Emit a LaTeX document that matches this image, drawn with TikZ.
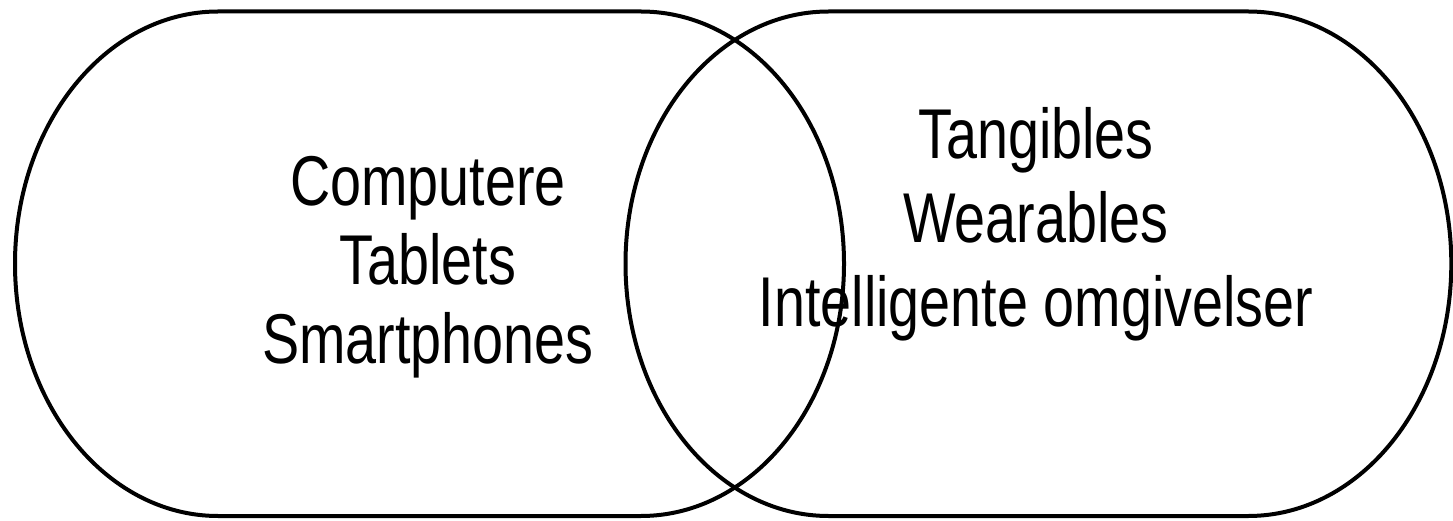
\documentclass[tikz,border=0pt]{standalone}
\usepackage{fontspec}
\setmainfont{Liberation Sans}
\tikzset{
  blob/.style={draw=black, line width=4pt},
  label/.style={anchor=base, inner sep=0pt, font=\fontsize{70.5pt}{84pt}\selectfont},
}
% narrow lettering used for every label
\newcommand{\narrow}[1]{\scalebox{0.79}[1]{#1}}
\begin{document}
\begin{tikzpicture}[x=1pt, y=1pt]
  \useasboundingbox (0,0) rectangle (1453,520);
  % left set: flat top and bottom, half-elliptic ends
  \draw[blob] (218,508.5) -- (641,508.5)
    arc[start angle=90, end angle=-90, x radius=203, y radius=252.25]
    -- (218,4)
    arc[start angle=270, end angle=90, x radius=203, y radius=252.25] -- cycle;
  % right set
  \draw[blob] (828.5,508.5) -- (1248.3,508.5)
    arc[start angle=90, end angle=-90, x radius=203, y radius=252.25]
    -- (828.5,4)
    arc[start angle=270, end angle=90, x radius=203, y radius=252.25] -- cycle;
  % labels of the left set
  \node[label] (computere) at (428,314.5) {\narrow{Computere}};
  \node[label] (tablets) at (428,235.5) {\narrow{Tablets}};
  \node[label] (smartphones) at (428,157) {\narrow{Smartphones}};
  % labels of the right set
  \node[label] (tangibles) at (1036,361.5) {\narrow{Tangibles}};
  \node[label] (wearables) at (1036,277.5) {\narrow{Wearables}};
  \node[label] (omgivelser) at (1036,193.5) {\narrow{Intelligente omgivelser}};
\end{tikzpicture}
\end{document}
